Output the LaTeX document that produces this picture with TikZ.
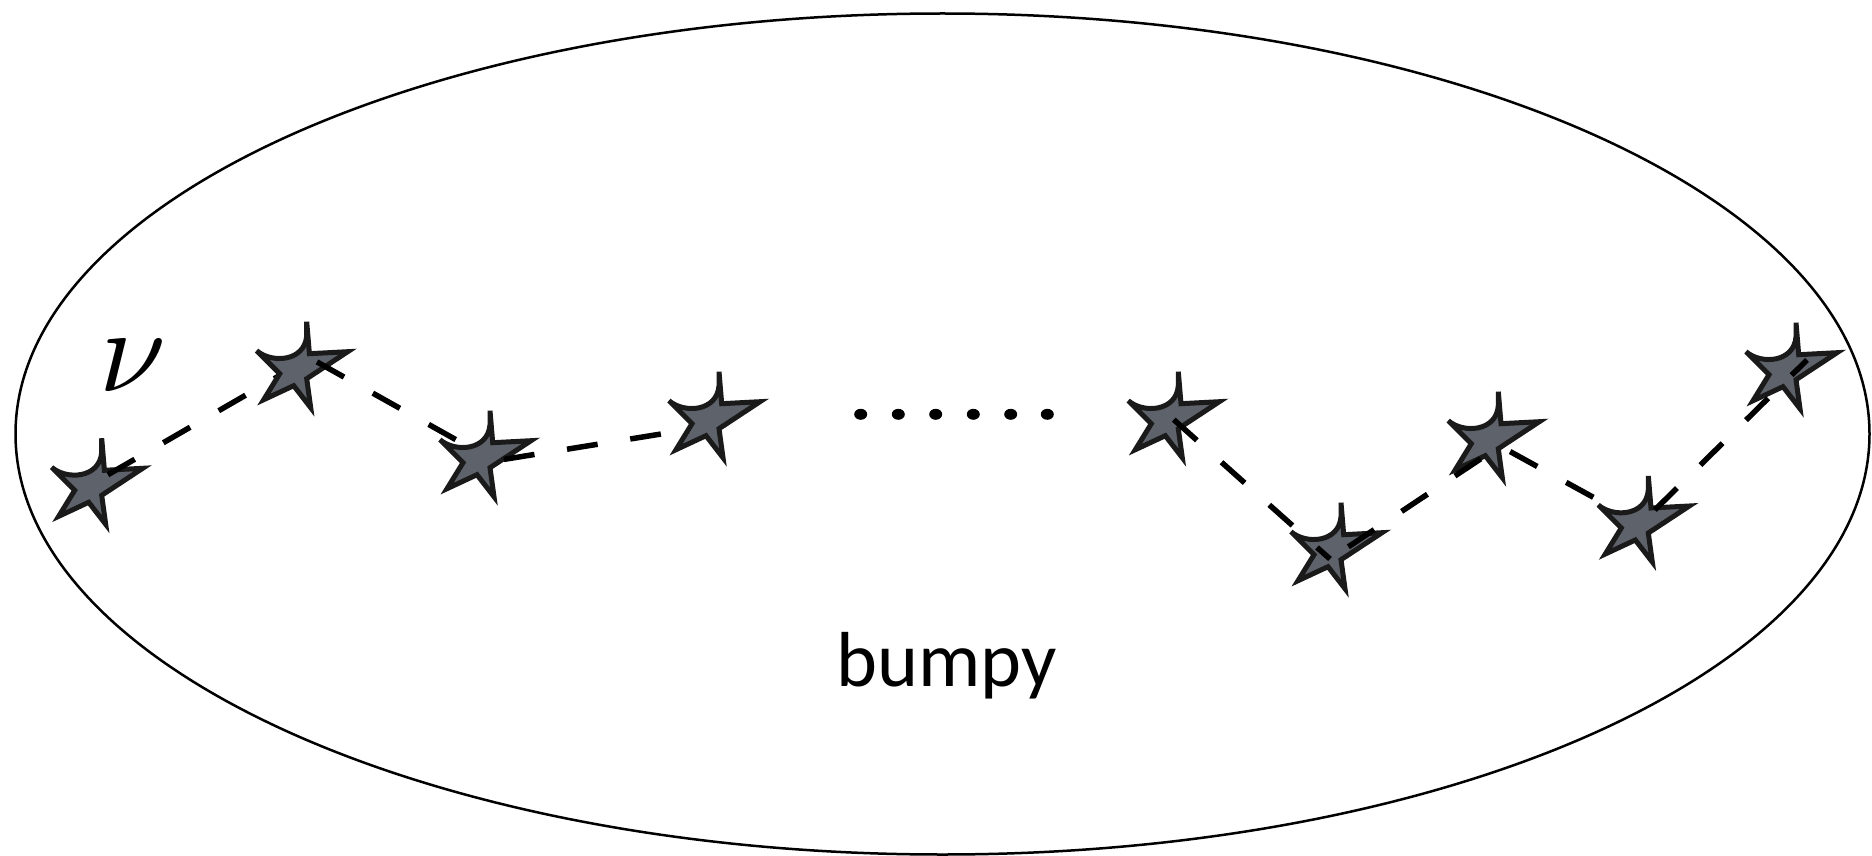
\documentclass[tikz,border=0pt]{standalone}
\usepackage{fontspec}
\newfontfamily\labelfont{Carlito}
\definecolor{staredge}{RGB}{26,26,26}
\definecolor{starfill}{RGB}{94,98,106}
\begin{document}
\begin{tikzpicture}[x=1pt,y=-1pt,
  starstyle/.style={draw=staredge, fill=starfill, line width=5pt, line join=miter, miter limit=6},
  linkline/.style={line width=5.5pt, draw=black, dash pattern=on 31pt off 33pt},
  starshape/.pic={
    \filldraw[starstyle] (0,0) -- (2.7,32) -- (41,30) -- (0,57) -- (4,86) -- (-13,64)
      -- (-43,78) -- (-27,52) -- (-50,29) .. controls (-35,42) and (-2,40) .. (0,14) -- cycle;
  }]
\useasboundingbox (0,0) rectangle (1872,856);
\draw[line width=2.5pt] (942.5,434) ellipse [x radius=927, y radius=420.5];

% star tops
\coordinate (t1) at (101.7,438.3);
\coordinate (t2) at (306.7,321.7);
\coordinate (t3) at (490,410.7);
\coordinate (t4) at (719,371.7);
\coordinate (t5) at (1178.3,371.7);
\coordinate (t6) at (1341,502.7);
\coordinate (t7) at (1498.3,391.7);
\coordinate (t8) at (1648.3,476);
\coordinate (t9) at (1796,322.7);
% connection points
\coordinate (a1) at (104,477);
\coordinate (a2) at (310,358);
\coordinate (a3) at (494,461);
\coordinate (a4) at (723,424);
\coordinate (a5) at (1173,419);
\coordinate (a6) at (1330,559);
\coordinate (a7) at (1500,446);
\coordinate (a8) at (1641,523.5);
\coordinate (a9) at (1807,360);

\pic (s1) at (t1) {starshape};
\draw[linkline, dash phase=59.5pt] (a1) -- (a2);
\pic (s2) at (t2) {starshape};
\draw[linkline, dash phase=56pt] (a2) -- (a3);
\pic (s3) at (t3) {starshape};
\draw[linkline, dash phase=54pt] (a3) -- (a4);
\pic (s4) at (t4) {starshape};
\pic (s5) at (t5) {starshape};
\pic (s6) at (t6) {starshape};
\draw[linkline, dash phase=63pt] (a5) -- (a6);
\pic (s7) at (t7) {starshape};
\draw[linkline, dash phase=42pt] (a6) -- (a7);
\draw[linkline, dash phase=52.5pt] (a7) -- (a8);
\pic (s8) at (t8) {starshape};
\pic (s9) at (t9) {starshape};
\draw[linkline, dash phase=44.6pt] (a8) -- (a9);

\foreach \dx in {860.7,898.3,935.7,973.3,1010.7,1047.3}
  \fill (\dx,414.3) ellipse [x radius=6.5, y radius=5.5];

\node[inner sep=0pt] (nu) at (132.5,366) {\scalebox{12}{$\nu$}};
\node[anchor=base, inner sep=0pt] (label) at (946.7,686.7) {\labelfont\fontsize{78}{90}\selectfont bumpy};
\end{tikzpicture}
\end{document}
